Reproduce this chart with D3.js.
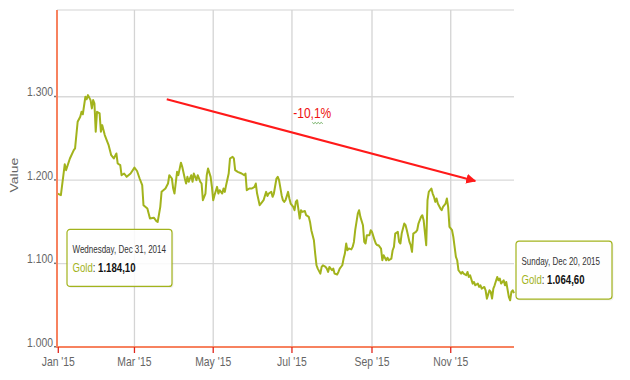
<!DOCTYPE html>
<html><head><meta charset="utf-8">
<script src="https://cdn.jsdelivr.net/npm/d3@7"></script>
<style>body{margin:0;background:#fff}svg{display:block}</style>
</head><body><svg id="c" width="630" height="380"></svg>
<script>
const startDate = "2014-12-31";
const endDate = "2015-12-20";
const dayOffsets = [0,3,6,7,10,13,14,16,18,19,20,22,23,24,26,27,28,29,30,31,33,34,35,37,39,40,41,42,44,46,47,49,50,52,54,57,60,62,64,66,67,70,72,75,77,78,80,81,84,86,87,89,90,91,93,94,96,97,99,100,101,102,104,105,106,108,109,111,112,113,115,116,117,119,120,121,122,124,125,126,128,129,130,131,133,134,136,137,138,140,143,145,146,147,149,151,153,154,155,157,159,160,162,163,164,166,167,168,170,171,172,174,175,176,177,179,180,181,183,184,185,186,188,189,190,192,193,195,196,197,199,200,201,202,204,205,206,208,209,210,211,213,214,215,217,218,219,221,222,223,224,225,226,228,229,230,231,233,234,235,237,238,239,240,242,243,244,246,247,248,249,251,252,253,255,256,257,259,260,261,262,264,265,266,267,269,270,271,273,274,275,276,278,279,280,282,283,284,286,287,288,290,291,292,293,294,295,297,298,299,301,302,303,304,306,307,308,309,310,311,313,314,315,317,318,319,320,322,323,324,326,327,328,329,331,332,333,335,336,337,338,339,341,342,343,344,346,347,348,350,351,352,353,354];
const goldPrices = [1184.1,1182,1219,1212,1226,1236,1238,1270,1276,1282,1279,1300,1297,1302,1296,1286,1296,1292,1258,1282,1280,1258,1266,1254,1246,1242,1236,1230,1226,1232,1220,1218,1206,1208,1204,1208,1215,1211,1202,1194,1170,1166,1154,1155,1151,1150,1168,1186,1190,1196,1206,1202,1190,1184,1210,1206,1221,1216,1202,1196,1204,1198,1206,1198,1208,1200,1206,1198,1196,1176,1184,1206,1214,1204,1192,1176,1182,1192,1184,1188,1184,1190,1186,1194,1208,1226,1228,1226,1212,1210,1208,1206,1208,1188,1190,1190,1192,1196,1184,1170,1174,1176,1186,1181,1184,1186,1180,1184,1202,1204,1200,1182,1176,1174,1176,1186,1178,1172,1168,1164,1174,1176,1154,1164,1162,1163,1158,1156,1150,1140,1128,1112,1098,1094,1088,1096,1098,1096,1094,1090,1096,1092,1094,1088,1087,1090,1094,1098,1106,1112,1124,1116,1118,1117,1120,1126,1140,1160,1164,1156,1146,1126,1124,1134,1134,1140,1138,1128,1124,1122,1122,1118,1104,1110,1104,1107,1104,1106,1116,1120,1136,1138,1126,1124,1136,1148,1146,1140,1126,1122,1114,1136,1138,1140,1148,1156,1158,1152,1122,1176,1186,1190,1184,1180,1174,1178,1172,1166,1164,1168,1172,1178,1168,1144,1140,1132,1120,1108,1104,1092,1088,1090,1088,1086,1090,1084,1086,1076,1078,1074,1076,1072,1074,1070,1072,1068,1058,1068,1066,1058,1070,1074,1084,1080,1082,1076,1080,1074,1078,1060,1056,1066,1068,1064.6];
const xTickDates = ["2015-01-01","2015-03-01","2015-05-01","2015-07-01","2015-09-01","2015-11-01"];
const xTickLabels = ["Jan '15","Mar '15","May '15","Jul '15","Sep '15","Nov '15"];
const yTicks = [1000,1100,1200,1300];
const yMax = 1404;
const seriesName = "Gold";
const axisTitle = "Value";
const tooltipDates = ["2014-12-31","2015-12-20"];
const tooltipHeaders = ["Wednesday, Dec 31, 2014","Sunday, Dec 20, 2015"];
const tooltipValues = [1184.10,1064.60];
const arrowDays = [85,324];
const arrowValues = [1297,1199];
const arrowLabel = "-10,1%";
const arrowLabelDay = 183;
const arrowLabelValue = 1274;

const parse = d3.timeParse("%Y-%m-%d");
const start = parse(startDate);
const data = dayOffsets.map((d,i)=>({date:d3.timeDay.offset(start,d), v:goldPrices[i]}));
const loc = d3.formatLocale({decimal:",",thousands:".",grouping:[3],currency:["",""]});
const fmtY = loc.format(",d");
const fmtV = loc.format(",.2f");

const L=57,R=514,T=10,B=347;
const SX=0.8; // horizontal squeeze of the original screenshot
const x = d3.scaleTime().domain([start, parse(endDate)]).range([L,R]);
const y = d3.scaleLinear().domain([1000,yMax]).range([B,T]);
const svg = d3.select("#c");
const font = "'Liberation Sans',Arial,Helvetica,sans-serif";
const lineColor = "#a2b31c";
const at = (px,py)=>`translate(${px},${py}) scale(${SX},1)`;

// grid
const grid = svg.append("g");
grid.selectAll("line.h").data(yTicks.filter(t=>t>1000)).join("line")
  .attr("x1",L).attr("x2",R).attr("y1",d=>y(d)).attr("y2",d=>y(d))
  .attr("stroke","#d9d9d9").attr("stroke-width",1.3);
grid.append("line").attr("x1",L).attr("x2",R).attr("y1",T).attr("y2",T)
  .attr("stroke","#e2e2e2").attr("stroke-width",1.5);
grid.selectAll("line.v").data(xTickDates.map(parse).slice(1)).join("line")
  .attr("x1",d=>x(d)).attr("x2",d=>x(d)).attr("y1",T).attr("y2",B)
  .attr("stroke","#d4d4d4").attr("stroke-width",1.3);

// y labels
const yl = svg.append("g");
yl.selectAll("text").data(yTicks).join("text")
  .attr("transform",d=>at(L-4,y(d)-0.5))
  .attr("text-anchor","end").attr("font-family",font).attr("font-size",13)
  .attr("fill","#666").text(d=>fmtY(d));
yl.selectAll("rect").data(yTicks).join("rect")
  .attr("x",L-3).attr("y",d=>y(d)-1).attr("width",2).attr("height",1.5).attr("fill","#777");

// axis title
svg.append("text").attr("transform",`translate(18,${(y(1100)+y(1300))/2-5}) scale(${SX},1) rotate(-90)`)
  .attr("text-anchor","middle").attr("font-family",font)
  .attr("font-size",14).attr("fill","#666").text(axisTitle);

// line
svg.append("path").datum(data)
  .attr("d", d3.line().x(d=>x(d.date)).y(d=>y(d.v)))
  .attr("fill","none").attr("stroke",lineColor).attr("stroke-width",2).attr("stroke-linejoin","round");

// axes
svg.append("line").attr("x1",L).attr("x2",L).attr("y1",T).attr("y2",B+1)
  .attr("stroke","#f7825f").attr("stroke-width",2);
svg.append("line").attr("x1",L-1).attr("x2",R).attr("y1",B).attr("y2",B)
  .attr("stroke","#f7825f").attr("stroke-width",2);
const xa = svg.append("g");
xa.selectAll("line").data(xTickDates.map(parse)).join("line")
  .attr("x1",d=>x(d)).attr("x2",d=>x(d)).attr("y1",B).attr("y2",B+6)
  .attr("stroke","#e0261c").attr("stroke-width",1.3);
xa.selectAll("text").data(xTickDates.map(parse)).join("text")
  .attr("transform",d=>at(x(d),B+19)).attr("text-anchor","middle")
  .attr("font-family",font).attr("font-size",13).attr("fill","#666")
  .text((d,i)=>xTickLabels[i]);

// arrow
const defs = svg.append("defs");
defs.append("marker").attr("id","ah").attr("viewBox","0 0 10 10").attr("refX",9).attr("refY",5)
  .attr("markerWidth",5).attr("markerHeight",5).attr("orient","auto").attr("markerUnits","strokeWidth")
  .append("path").attr("d","M0,0L10,5L0,10z").attr("fill","#ff1a1a");
const ax = arrowDays.map(d=>x(d3.timeDay.offset(start,d)));
const ay = arrowValues.map(v=>y(v));
svg.append("line").attr("x1",ax[0]).attr("y1",ay[0]).attr("x2",ax[1]).attr("y2",ay[1])
  .attr("stroke","#ff1a1a").attr("stroke-width",2).attr("marker-end","url(#ah)");
const lx = x(d3.timeDay.offset(start,arrowLabelDay)), ly = y(arrowLabelValue);
svg.append("text").attr("transform",at(lx,ly)).attr("font-family",font).attr("font-size",15)
  .attr("fill","#ee1111").text(arrowLabel);
// spell-check squiggle under the label
const sq = d3.range(0,11,1.5).map((k,i)=>[lx+19+k, ly+4+(i%2?1.2:0)]);
svg.append("path").attr("d",d3.line()(sq)).attr("fill","none").attr("stroke","#4c9a3c").attr("stroke-width",0.8);

// tooltips
const boxes = [{dx:10,dy:36,w:105,h:57},{dx:2,dy:-52,w:96,h:58}];
tooltipDates.forEach((ds,i)=>{
  const px = x(parse(ds)), py = y(tooltipValues[i]);
  const b = boxes[i];
  const g = svg.append("g").attr("transform",`translate(${px+b.dx},${py+b.dy})`);
  g.append("rect").attr("x",1.5).attr("y",1.5).attr("width",b.w).attr("height",b.h).attr("rx",3)
    .attr("fill","rgba(0,0,0,0.06)");
  g.append("rect").attr("width",b.w).attr("height",b.h).attr("rx",3)
    .attr("fill","rgba(255,255,255,0.88)").attr("stroke",lineColor).attr("stroke-width",1.2);
  g.append("text").attr("transform",at(5.5,24)).attr("font-family",font).attr("font-size",10)
    .attr("fill","#333").text(tooltipHeaders[i]);
  const t = g.append("text").attr("transform",at(5.5,43)).attr("font-family",font).attr("font-size",12);
  t.append("tspan").attr("fill",lineColor).text(seriesName);
  t.append("tspan").attr("fill","#333").text(": ");
  t.append("tspan").attr("fill","#111").attr("font-weight","bold").text(fmtV(tooltipValues[i]));
});
</script></body></html>
